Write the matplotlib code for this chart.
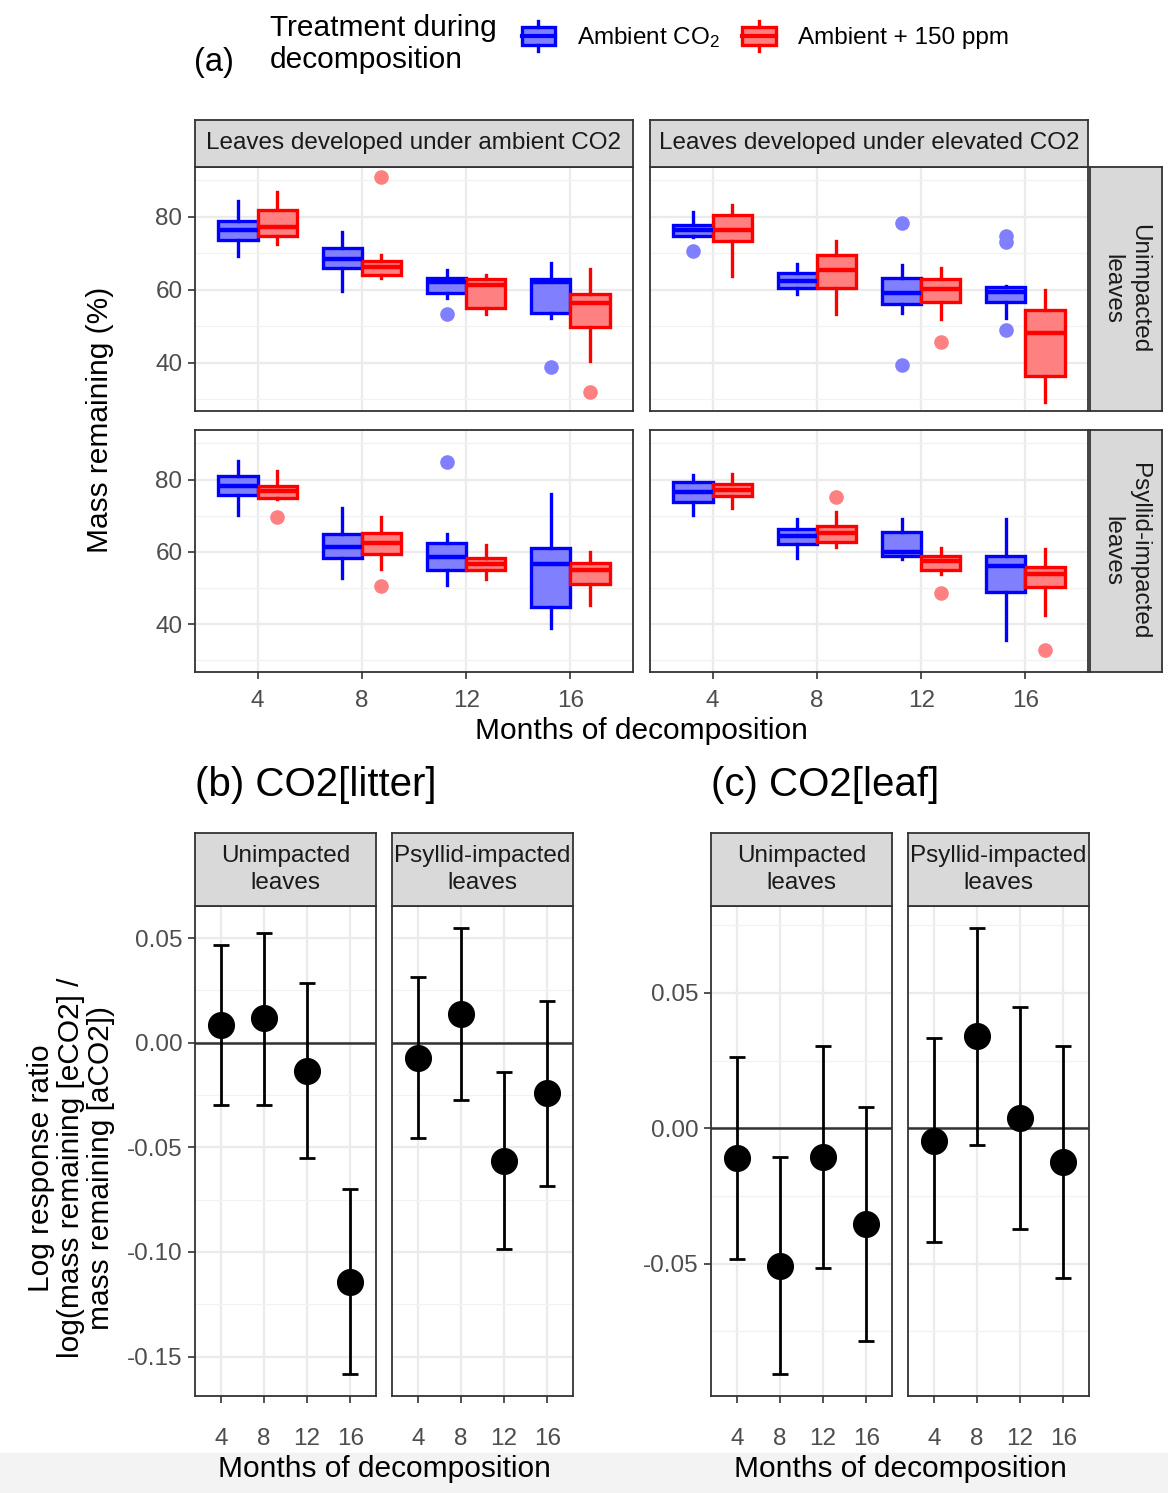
import numpy as np
import matplotlib.pyplot as plt
from matplotlib.patches import Patch, Rectangle
from matplotlib.lines import Line2D
from matplotlib.legend_handler import HandlerBase

plt.rcParams['font.family'] = ['Liberation Sans', 'DejaVu Sans']
plt.rcParams['mathtext.default'] = 'regular'

W, H = 1168, 1493

months = [4, 8, 12, 16]
treatments = ['Ambient CO$_2$', 'Ambient + 150 ppm']
leaf_dev = ['Leaves developed under ambient CO2', 'Leaves developed under elevated CO2']
leaf_type = ['Unimpacted\nleaves', 'Psyllid-impacted\nleaves']

# box stats per month: [whislo, q1, med, q3, whishi]
unimp_aleaf_amb = [[69.4, 73.6, 76.3, 78.8, 84.4], [59.6, 65.9, 68.4, 71.5, 75.9],
                   [57.9, 59.2, 62.3, 63.3, 65.5], [52.2, 53.6, 62.1, 63.0, 67.3]]
unimp_aleaf_elev = [[72.5, 74.9, 77.2, 82.0, 86.9], [63.3, 64.1, 66.2, 68.0, 69.7],
                    [53.3, 55.0, 61.4, 63.1, 64.2], [40.6, 49.9, 56.3, 58.9, 65.7]]
unimp_eleaf_amb = [[74.5, 74.9, 76.3, 77.9, 81.4], [59.0, 60.5, 62.5, 64.6, 67.1],
                   [53.6, 56.1, 59.2, 63.4, 66.7], [52.4, 56.8, 59.5, 60.9, 61.0]]
unimp_eleaf_elev = [[63.9, 73.3, 76.5, 80.5, 83.2], [53.3, 60.4, 65.5, 69.6, 73.3],
                    [52.1, 56.6, 60.2, 63.0, 66.0], [29.2, 36.5, 48.1, 54.5, 60.0]]
psyl_aleaf_amb = [[70.2, 75.6, 78.2, 81.1, 85.2], [52.9, 58.4, 61.3, 65.0, 72.0],
                  [50.9, 55.0, 58.6, 62.5, 65.0], [38.9, 44.9, 56.6, 61.1, 75.9]]
psyl_aleaf_elev = [[74.5, 74.9, 76.8, 78.3, 82.3], [55.4, 59.3, 62.5, 65.1, 69.7],
                   [52.4, 55.0, 56.7, 58.4, 61.9], [45.2, 51.0, 54.9, 57.0, 60.0]]
psyl_eleaf_amb = [[70.1, 73.8, 76.6, 79.3, 81.2], [58.4, 62.3, 64.3, 66.4, 69.1],
                  [58.1, 59.0, 60.0, 65.5, 69.1], [35.6, 49.0, 56.1, 58.9, 69.1]]
psyl_eleaf_elev = [[72.0, 75.4, 77.0, 78.8, 81.6], [61.3, 62.8, 65.3, 67.1, 71.1],
                   [54.0, 55.0, 57.5, 59.0, 61.0], [42.5, 50.3, 53.8, 55.9, 60.7]]

# outliers per month
unimp_aleaf_amb_out = [[], [], [53.5], [38.9]]
unimp_aleaf_elev_out = [[], [90.9], [], [31.9]]
unimp_eleaf_amb_out = [[70.6], [], [78.3, 39.5], [74.7, 73.1, 49.0]]
unimp_eleaf_elev_out = [[], [], [45.8], []]
psyl_aleaf_amb_out = [[], [], [84.8], []]
psyl_aleaf_elev_out = [[69.7], [50.6], [], []]
psyl_eleaf_amb_out = [[], [], [], []]
psyl_eleaf_elev_out = [[], [75.1], [48.6], [32.8]]

# log response ratios: CO2[litter]
litter_unimp = [0.0084, 0.0116, -0.0135, -0.1142]
litter_unimp_lo = [-0.0298, -0.0298, -0.0553, -0.1583]
litter_unimp_hi = [0.0467, 0.0525, 0.0283, -0.0701]
litter_psyl = [-0.0075, 0.0137, -0.0564, -0.0242]
litter_psyl_lo = [-0.0457, -0.0274, -0.0987, -0.0683]
litter_psyl_hi = [0.0312, 0.0546, -0.0142, 0.0201]

# CO2[leaf]
leaf_unimp = [-0.0111, -0.0507, -0.0105, -0.0353]
leaf_unimp_lo = [-0.0484, -0.0908, -0.0515, -0.0784]
leaf_unimp_hi = [0.0262, -0.0105, 0.0304, 0.0080]
leaf_psyl = [-0.0046, 0.0339, 0.0037, -0.0126]
leaf_psyl_lo = [-0.0421, -0.0062, -0.0373, -0.0554]
leaf_psyl_hi = [0.0333, 0.0739, 0.0447, 0.0304]

colors = ['#0000FF', '#FF0000']
fills = ['#8080FF', '#FF8080']
GRID = '#EBEBEB'
BORDER = '#333333'
TICKC = '#4D4D4D'
FS = 17.5
FT = 21.5

fig = plt.figure(figsize=(W / 100, H / 100), dpi=100)
fig.patches.append(Rectangle((0, 0), 1, 1 - 1453 / H, transform=fig.transFigure,
                             color='#F3F3F3', zorder=-10))


def px_axes(x0, y0, x1, y1):
    return fig.add_axes([x0 / W, 1 - y1 / H, (x1 - x0) / W, (y1 - y0) / H])


def style_panel(ax, show_x, show_y, xpad=7):
    ax.set_facecolor('white')
    for s in ax.spines.values():
        s.set_color(BORDER)
        s.set_linewidth(1.3)
    ax.tick_params(axis='both', colors=BORDER, labelcolor=TICKC, labelsize=FS,
                   length=5, width=1.2, pad=4)
    ax.tick_params(axis='x', pad=xpad)
    ax.tick_params(axis='y', which='minor', length=0)
    ax.grid(True, which='major', color=GRID, lw=1.6, zorder=0)
    ax.grid(True, which='minor', axis='y', color='#F2F2F2', lw=0.9, zorder=0)
    ax.set_axisbelow(True)
    if not show_x:
        ax.tick_params(axis='x', length=0, labelbottom=False)
    if not show_y:
        ax.tick_params(axis='y', length=0, labelleft=False)


def strip(x0, y0, x1, y1, text, rotation=0):
    s = px_axes(x0, y0, x1, y1)
    s.set_facecolor('#D9D9D9')
    s.set_xticks([])
    s.set_yticks([])
    for sp in s.spines.values():
        sp.set_color(BORDER)
        sp.set_linewidth(1.3)
    s.text(0.5, 0.5, text, ha='center', va='center', rotation=rotation,
           fontsize=FS, color='#1A1A1A', transform=s.transAxes, linespacing=1.25)


pos = np.arange(len(months)) + 1


def draw_boxes(ax, data_pair, out_pair):
    for k in range(2):
        stats = []
        for st, fl in zip(data_pair[k], out_pair[k]):
            stats.append(dict(whislo=st[0], q1=st[1], med=st[2], q3=st[3],
                              whishi=st[4], fliers=fl))
        off = (k - 0.5) * 0.375
        ax.bxp(stats, positions=pos + off, widths=0.375, patch_artist=True,
               showcaps=False, manage_ticks=False,
               boxprops=dict(facecolor=fills[k], edgecolor=colors[k], lw=2.4),
               medianprops=dict(color=colors[k], lw=3.2, solid_capstyle='butt'),
               whiskerprops=dict(color=colors[k], lw=2.4),
               flierprops=dict(marker='o', markersize=9.5, markerfacecolor=fills[k],
                               markeredgecolor=fills[k], alpha=1, linestyle='none'))
    ax.set_xlim(0.4, 4.6)
    ax.set_ylim(26.8, 93.7)
    ax.set_xticks(pos)
    ax.set_xticklabels(months)
    ax.set_yticks([40, 60, 80])
    ax.set_yticks([30, 50, 70, 90], minor=True)


# ---- panel (a)
panel_a = [
    ((195, 167, 633, 411), (unimp_aleaf_amb, unimp_aleaf_elev), (unimp_aleaf_amb_out, unimp_aleaf_elev_out), False, True),
    ((650, 167, 1088, 411), (unimp_eleaf_amb, unimp_eleaf_elev), (unimp_eleaf_amb_out, unimp_eleaf_elev_out), False, False),
    ((195, 430, 633, 672), (psyl_aleaf_amb, psyl_aleaf_elev), (psyl_aleaf_amb_out, psyl_aleaf_elev_out), True, True),
    ((650, 430, 1088, 672), (psyl_eleaf_amb, psyl_eleaf_elev), (psyl_eleaf_amb_out, psyl_eleaf_elev_out), True, False),
]
for box, dpair, opair, sx, sy in panel_a:
    ax = px_axes(*box)
    draw_boxes(ax, dpair, opair)
    style_panel(ax, sx, sy, xpad=8)

strip(195, 120, 633, 167, leaf_dev[0])
strip(650, 120, 1088, 167, leaf_dev[1])
strip(1090, 167, 1162, 411, leaf_type[0], rotation=-90)
strip(1090, 430, 1162, 672, leaf_type[1], rotation=-90)

fig.text(100 / W, 1 - 420 / H, 'Mass remaining (%)', rotation=90, ha='center', va='center', fontsize=FT)
fig.text(641 / W, 1 - 731 / H, 'Months of decomposition', ha='center', va='center', fontsize=FT)
fig.text(194 / W, 1 - 63 / H, '(a)', ha='left', va='center', fontsize=FT + 2)
fig.text(270 / W, 1 - 44 / H, 'Treatment during\ndecomposition', ha='left', va='center',
         fontsize=FT, linespacing=1.2)


class BoxKey(HandlerBase):
    def create_artists(self, legend, orig_handle, xdescent, ydescent, width, height, fontsize, trans):
        ec = orig_handle.get_edgecolor()
        fc = orig_handle.get_facecolor()
        cx = width / 2 - xdescent
        rect = Rectangle((-xdescent + 2, -ydescent + height * 0.2), width - 4, height * 0.6,
                         facecolor=fc, edgecolor=ec, lw=2.4, transform=trans)
        med = Line2D([-xdescent + 2, -xdescent + width - 2], [-ydescent + height / 2] * 2,
                     color=ec, lw=3, transform=trans)
        wt = Line2D([cx, cx], [-ydescent + height * 0.8, -ydescent + height], color=ec, lw=2.4, transform=trans)
        wb = Line2D([cx, cx], [-ydescent, -ydescent + height * 0.2], color=ec, lw=2.4, transform=trans)
        return [rect, med, wt, wb]


handles = [Patch(facecolor=fills[k], edgecolor=colors[k]) for k in range(2)]
fig.legend(handles, treatments, ncol=2, loc='center left', bbox_to_anchor=(519 / W, 1 - 36 / H),
           frameon=False, fontsize=FS, handlelength=1.6, handleheight=1.5, handletextpad=0.8,
           columnspacing=0.8, borderaxespad=0, borderpad=0,
           handler_map={Patch: BoxKey()})


# ---- panels (b) and (c)
def draw_lrr(ax, mid, lo, hi, ylim, yt, ymt):
    mid = np.array(mid)
    err = [mid - np.array(lo), np.array(hi) - mid]
    ax.axhline(0, color='#333333', lw=1.8, zorder=2)
    ax.errorbar(pos, mid, yerr=err, fmt='o', color='black', ecolor='black', elinewidth=2,
                capsize=6, capthick=2, markersize=18.5, zorder=3)
    ax.set_xlim(0.4, 4.6)
    ax.set_ylim(*ylim)
    ax.set_xticks(pos)
    ax.set_xticklabels(months)
    ax.set_yticks(yt)
    ax.set_yticklabels(['%.2f' % v for v in yt])
    ax.set_yticks(ymt, minor=True)


b_ylim = (-0.1688, 0.0653)
b_yt = [-0.15, -0.10, -0.05, 0.00, 0.05]
b_ymt = [-0.125, -0.075, -0.025, 0.025]
c_ylim = (-0.0989, 0.0821)
c_yt = [-0.05, 0.00, 0.05]
c_ymt = [-0.075, -0.025, 0.025, 0.075]

bc = [
    ((195, 906, 376, 1396), litter_unimp, litter_unimp_lo, litter_unimp_hi, b_ylim, b_yt, b_ymt, True),
    ((392, 906, 573, 1396), litter_psyl, litter_psyl_lo, litter_psyl_hi, b_ylim, b_yt, b_ymt, False),
    ((711, 906, 892, 1396), leaf_unimp, leaf_unimp_lo, leaf_unimp_hi, c_ylim, c_yt, c_ymt, True),
    ((908, 906, 1089, 1396), leaf_psyl, leaf_psyl_lo, leaf_psyl_hi, c_ylim, c_yt, c_ymt, False),
]
for box, m, lo, hi, yl, yt, ymt, sy in bc:
    ax = px_axes(*box)
    draw_lrr(ax, m, lo, hi, yl, yt, ymt)
    style_panel(ax, True, sy, xpad=18)
    strip(box[0], 833, box[2], 906, leaf_type[0] if box[0] in (195, 711) else leaf_type[1])

fig.text(195 / W, 1 - 785 / H, '(b) CO2[litter]', ha='left', va='center', fontsize=29)
fig.text(711 / W, 1 - 785 / H, '(c) CO2[leaf]', ha='left', va='center', fontsize=29)
fig.text(384 / W, 1 - 1469 / H, 'Months of decomposition', ha='center', va='center', fontsize=FT)
fig.text(900 / W, 1 - 1469 / H, 'Months of decomposition', ha='center', va='center', fontsize=FT)
fig.text(71 / W, 1 - 1168 / H, 'Log response ratio\nlog(mass remaining [eCO2] /\nmass remaining [aCO2])',
         rotation=90, ha='center', va='center', fontsize=FT, linespacing=1.1)

fig.savefig('out.png', dpi=100)
